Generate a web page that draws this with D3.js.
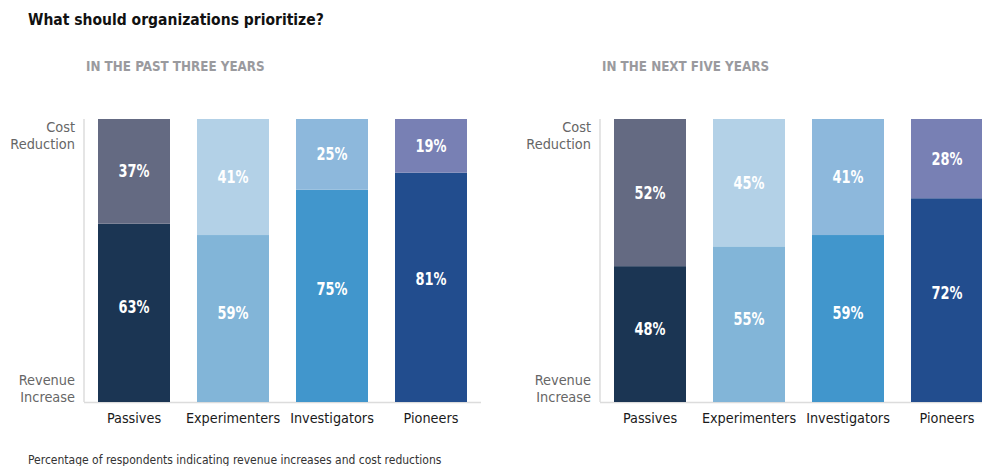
<!DOCTYPE html>
<html><head><meta charset="utf-8">
<script src="https://cdn.jsdelivr.net/npm/d3@7"></script>
<style>
body{margin:0;background:#fff;}
svg{display:block;}
text{font-family:"Liberation Sans Narrow","DejaVu Sans Condensed","Roboto",sans-serif;}
</style></head>
<body><svg id="c" width="982" height="466"></svg>
<script>
const categories = ["Passives","Experimenters","Investigators","Pioneers"];
const pastRevenue = [63,59,75,81];
const pastCost = [37,41,25,19];
const nextRevenue = [48,55,59,72];
const nextCost = [52,45,41,28];
const panelTitles = ["IN THE PAST THREE YEARS","IN THE NEXT FIVE YEARS"];
const title = "What should organizations prioritize?";
const caption = "Percentage of respondents indicating revenue increases and cost reductions";
const revenueColors = ["#1b3553","#82b5d8","#4196cc","#224d8e"];
const costColors = ["#646a82","#b3d1e7","#8db8dc","#7880b4"];

const svg = d3.select("#c");
svg.append("text").attr("x",28).attr("y",25).attr("font-size",15.5).attr("font-weight","bold")
  .attr("fill","#111").text(title);
svg.append("text").attr("x",28).attr("y",464).attr("font-size",12).attr("fill","#333").text(caption);

const plotTop = 119, plotBottom = 402;
const y = d3.scaleLinear().domain([0,100]).range([plotBottom, plotTop]);

function panel(x0, xEnd, titleText, rev, cost){
  const g = svg.append("g");
  g.append("text").attr("x",x0+2).attr("y",71).attr("font-size",13.3).attr("font-weight","bold")
    .attr("fill","#9a9a9e").text(titleText);
  const x = d3.scaleBand().domain(categories).range([x0+14, x0+14+99*3+72]).paddingInner(27/99).paddingOuter(0);
  g.append("line").attr("x1",x0).attr("x2",x0).attr("y1",plotTop).attr("y2",plotBottom).attr("stroke","#dcdcdc").attr("stroke-width",1.5);
  g.append("line").attr("x1",x0).attr("x2",xEnd).attr("y1",plotBottom+0.5).attr("y2",plotBottom+0.5).attr("stroke","#dcdcdc").attr("stroke-width",1.5);
  const pct = (v, yy, bx, bw) => {
    const t = g.append("text").attr("x",bx+bw/2).attr("y",yy).attr("dy","0.36em")
      .attr("text-anchor","middle").attr("font-size",17).attr("font-weight","bold").attr("fill","#fff").text(v+"%");
    t.attr("textLength",31).attr("lengthAdjust","spacingAndGlyphs");
  };
  categories.forEach((c,i)=>{
    const bx = x(c), bw = x.bandwidth();
    g.append("rect").attr("x",bx).attr("width",bw).attr("y",y(rev[i])).attr("height",y(0)-y(rev[i])).attr("fill",revenueColors[i]);
    g.append("rect").attr("x",bx).attr("width",bw).attr("y",y(100)).attr("height",y(rev[i])-y(100)).attr("fill",costColors[i]);
    pct(rev[i], y(rev[i]*0.535), bx, bw);
    pct(cost[i], (y(rev[i])+y(100))/2, bx, bw);
    g.append("text").attr("x",bx+bw/2).attr("y",423).attr("text-anchor","middle").attr("font-size",14.3)
      .attr("fill","#1a1a1a").text(c);
  });
  const lab = (lines, yy)=>{
    lines.forEach((t,k)=>g.append("text").attr("x",x0-9).attr("y",yy+k*17).attr("text-anchor","end")
      .attr("font-size",14.4).attr("fill","#666").text(t));
  };
  lab(["Cost","Reduction"],132);
  lab(["Revenue","Increase"],385);
}
panel(84, 481, panelTitles[0], pastRevenue, pastCost);
panel(600, 982, panelTitles[1], nextRevenue, nextCost);
</script></body></html>
